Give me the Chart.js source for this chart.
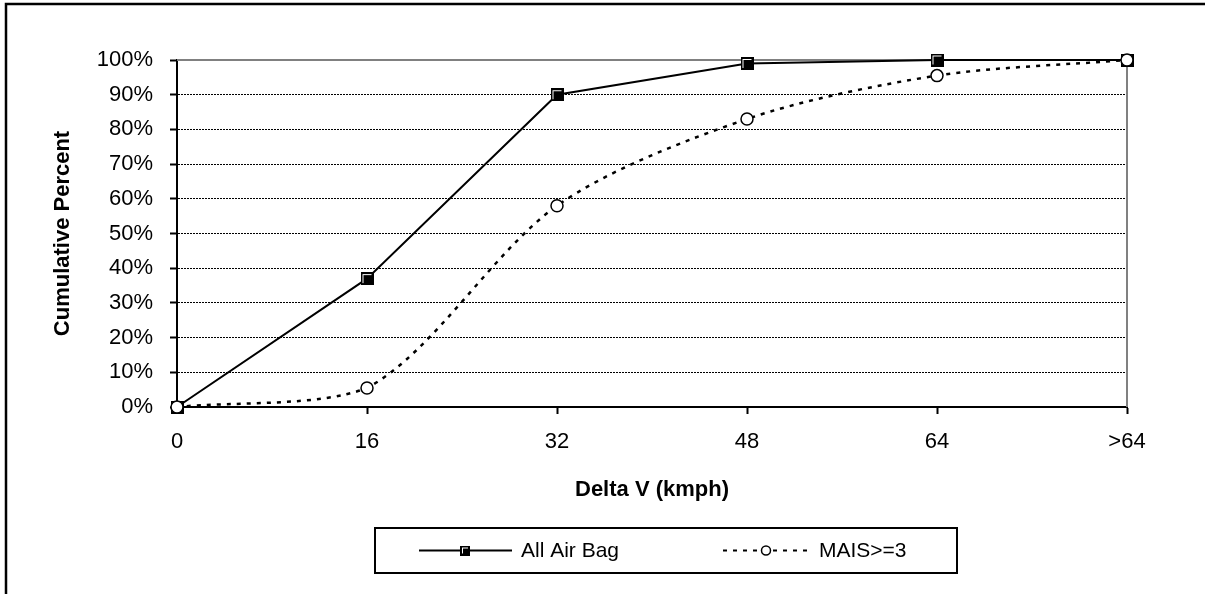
<!DOCTYPE html>
<html>
<head>
<meta charset="utf-8">
<script src="https://cdn.jsdelivr.net/npm/chart.js@4"></script>
<style>
  html, body { margin: 0; padding: 0; background: #fff; }
  #wrap { width: 1205px; height: 594px; }
</style>
</head>
<body>
<div id="wrap"><canvas id="deltaChart" width="1205" height="594"></canvas></div>
<script>
var deltaV = ["0", "16", "32", "48", "64", ">64"];
var allAirBag = [0, 37, 90, 99, 100, 100];
var mais3 = [0, 5.5, 58, 83, 95.5, 100];
var seriesNames = ["All Air Bag", "MAIS>=3"];

var FONT = "'Liberation Sans', Arial, sans-serif";

// square marker: black box with a thin white highlight on top/left
function squareMarker(size) {
	var c = document.createElement("canvas");
	c.width = size; c.height = size;
	var g = c.getContext("2d");
	g.fillStyle = "#000";
	g.fillRect(0, 0, size, size);
	g.fillStyle = "#fff";
	g.fillRect(2, 2, size - 4, size - 4);
	g.fillStyle = "#000";
	g.fillRect(3, 3, size - 5, size - 5);
	return c;
}
var bigSquare = squareMarker(13);
var smallSquare = squareMarker(10);

var decor = {
	id: "decor",
	beforeDatasetsDraw: function(chart) {
		var a = chart.chartArea, c = chart.ctx;
		c.save();
		c.strokeStyle = "#808080";
		c.lineWidth = 2;
		c.beginPath();
		c.moveTo(a.left, a.top);
		c.lineTo(a.right, a.top);
		c.lineTo(a.right, a.bottom);
		c.stroke();
		c.restore();
	},
	afterDraw: function(chart) {
		var c = chart.ctx;
		c.save();
		// outer frame (only left and top fall inside the picture)
		c.strokeStyle = "#000";
		c.lineWidth = 2.5;
		c.beginPath();
		c.moveTo(6, 600);
		c.lineTo(6, 4);
		c.lineTo(1210, 4);
		c.stroke();

		// legend box
		c.lineWidth = 2;
		c.strokeRect(375, 528, 582, 45);
		var cy = 550.5;
		c.font = "21px " + FONT;
		c.fillStyle = "#000";
		c.textBaseline = "middle";

		c.beginPath();
		c.lineWidth = 2;
		c.moveTo(419, cy);
		c.lineTo(512, cy);
		c.stroke();
		c.drawImage(smallSquare, 465 - 5, cy - 5);
		c.fillText(seriesNames[0], 521, cy + 1);

		c.beginPath();
		c.setLineDash([4, 6]);
		c.moveTo(723, cy);
		c.lineTo(808, cy);
		c.stroke();
		c.setLineDash([]);
		c.beginPath();
		c.fillStyle = "#fff";
		c.lineWidth = 1.5;
		c.arc(766, cy, 4.5, 0, Math.PI * 2);
		c.fill();
		c.stroke();
		c.fillStyle = "#000";
		c.fillText(seriesNames[1], 819, cy + 1);
		c.restore();
	}
};

var ctx = document.getElementById("deltaChart").getContext("2d");
var myChart = new Chart(ctx, {
	type: 'line',
	data: {
		labels: deltaV,
		datasets: [{
			label: seriesNames[0],
			data: allAirBag,
			order: 1,
			borderColor: '#000',
			borderWidth: 2,
			pointStyle: bigSquare,
			pointRadius: 6,
			tension: 0,
			clip: false
		}, {
			label: seriesNames[1],
			data: mais3,
			order: 0,
			borderColor: '#000',
			borderWidth: 2.5,
			borderDash: [4, 6],
			pointStyle: 'circle',
			pointRadius: 6,
			pointBorderWidth: 1.5,
			pointBackgroundColor: '#fff',
			pointBorderColor: '#000',
			tension: 0.3,
			clip: false
		}]
	},
	options: {
		responsive: false,
		animation: false,
		events: [],
		layout: {
			padding: { left: 6, top: 60, right: 78, bottom: 0 }
		},
		plugins: {
			legend: { display: false },
			tooltip: { enabled: false }
		},
		scales: {
			x: {
				type: 'category',
				offset: false,
				afterFit: function(s) { s.height = 187; },
				grid: {
					drawOnChartArea: false,
					drawTicks: true,
					tickLength: 7,
					tickColor: '#000',
					tickWidth: 2
				},
				border: { color: '#000', width: 2 },
				ticks: {
					color: '#000',
					padding: 15,
					maxRotation: 0,
					font: { family: FONT, size: 22 }
				},
				title: {
					display: true,
					text: 'Delta V (kmph)',
					color: '#000',
					font: { family: FONT, size: 22, weight: 'bold' },
					padding: { top: 0, bottom: 91 }
				}
			},
			y: {
				min: 0,
				max: 100,
				afterFit: function(s) { s.width = 171; },
				grid: {
					color: function(c) {
						return (c.tick && (c.tick.value === 0 || c.tick.value === 100)) ? 'rgba(0,0,0,0)' : '#000';
					},
					lineWidth: 1,
					drawTicks: true,
					tickLength: 7,
					tickColor: '#000',
					tickWidth: 2,
					tickBorderDash: []
				},
				border: { color: '#000', width: 2, dash: [2, 1] },
				ticks: {
					stepSize: 10,
					color: '#000',
					padding: 17,
					font: { family: FONT, size: 22 },
					callback: function(v) { return v + '%'; }
				},
				title: {
					display: true,
					text: 'Cumulative Percent',
					color: '#000',
					font: { family: FONT, size: 22, weight: 'bold' },
					padding: { top: 44, bottom: 0 }
				}
			}
		}
	},
	plugins: [decor]
});
</script>
</body>
</html>
